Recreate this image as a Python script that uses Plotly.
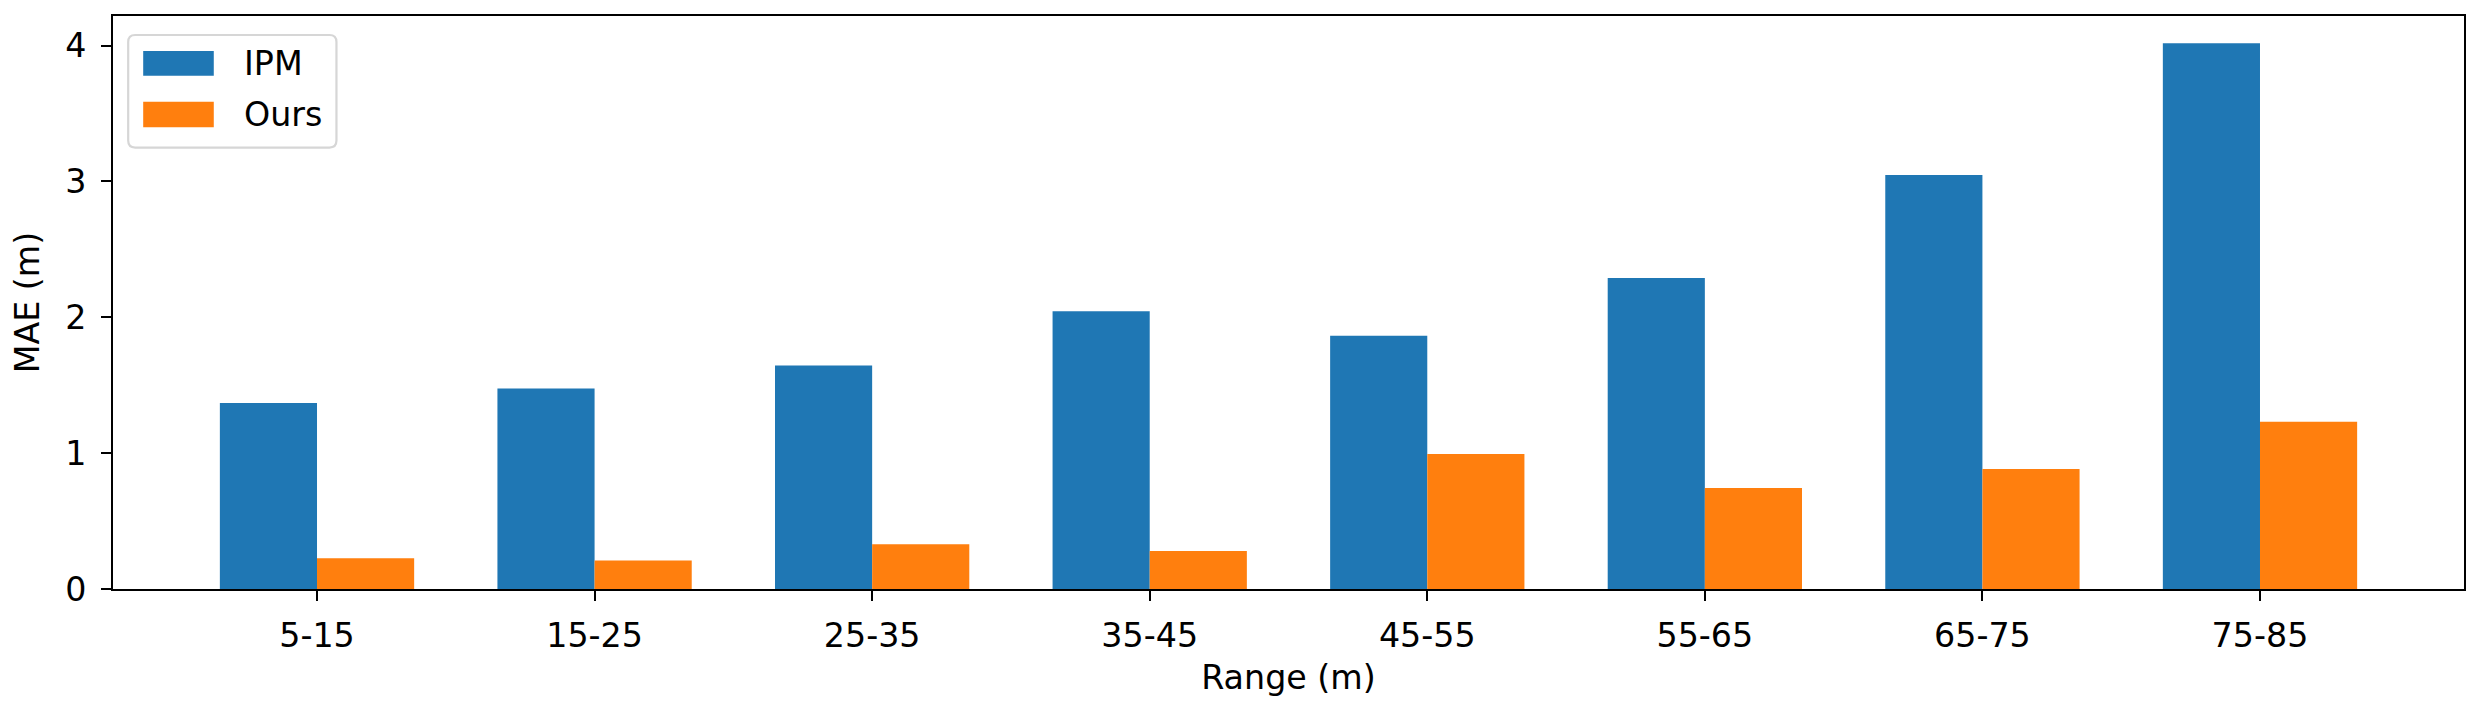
import plotly.graph_objects as go

# ---- data ----
categories = ["5-15", "15-25", "25-35", "35-45", "45-55", "55-65", "65-75", "75-85"]
ipm_mae = [1.37, 1.475, 1.645, 2.045, 1.865, 2.29, 3.047, 4.017]
ours_mae = [0.226, 0.21, 0.33, 0.28, 0.993, 0.743, 0.883, 1.232]
series_names = ["IPM", "Ours"]
y_ticks = [0, 1, 2, 3, 4]

# ---- style ----
# page body has an 8px default margin; figure is sized so it fills the window exactly
OFF = 8
W, H = 2485 - OFF, 708 - OFF
L, R, T, B = 112.5 - OFF, 2464 - OFF, 16 - OFF, 589.5 - OFF
FONT = "DejaVu Sans"
FS = 33.3
BLUE = "#1f77b4"
ORANGE = "#ff7f0e"

fig = go.Figure()
fig.add_trace(go.Bar(x=categories, y=ipm_mae, name=series_names[0],
                     marker=dict(color=BLUE, line=dict(width=0)), showlegend=False))
fig.add_trace(go.Bar(x=categories, y=ours_mae, name=series_names[1],
                     marker=dict(color=ORANGE, line=dict(width=0)), showlegend=False))

ymax = max(ipm_mae) * 1.05

axis_common = dict(
    showline=True, linecolor="black", linewidth=2.2, mirror=True,
    ticks="outside", ticklen=9.7, tickwidth=2.2, tickcolor="black",
    showgrid=False, zeroline=False, automargin=False,
    tickfont=dict(family=FONT, size=FS, color="black"),
)

fig.update_layout(
    width=W, height=H,
    margin=dict(l=L, r=W - R, t=T, b=H - B, pad=0),
    paper_bgcolor="white", plot_bgcolor="white",
    barmode="group", bargap=0.3, bargroupgap=0,
    font=dict(family=FONT, size=FS, color="black"),
    xaxis=dict(**axis_common, type="category", range=[-0.735, len(categories) - 1 + 0.735],
               title=dict(text="Range (m)", font=dict(family=FONT, size=FS), standoff=12),
               ticklabelstandoff=6),
    yaxis=dict(**axis_common, range=[0, ymax], tickvals=y_ticks,
               title=dict(text="MAE (m)", font=dict(family=FONT, size=FS), standoff=16),
               ticklabelstandoff=8),
)

# ---- legend drawn as box + patches + text (matplotlib style) ----
pw, ph = R - L, B - T
def px(x):
    return (x - OFF - L) / pw
def py(y):
    return (B - (y - OFF)) / ph

bx0, by0, bx1, by1 = 127.7, 35, 336, 147.7
r = 7
path = (
    f"M {px(bx0 + r)},{py(by0)} L {px(bx1 - r)},{py(by0)} "
    f"Q {px(bx1)},{py(by0)} {px(bx1)},{py(by0 + r)} "
    f"L {px(bx1)},{py(by1 - r)} Q {px(bx1)},{py(by1)} {px(bx1 - r)},{py(by1)} "
    f"L {px(bx0 + r)},{py(by1)} Q {px(bx0)},{py(by1)} {px(bx0)},{py(by1 - r)} "
    f"L {px(bx0)},{py(by0 + r)} Q {px(bx0)},{py(by0)} {px(bx0 + r)},{py(by0)} Z"
)
fig.add_shape(type="path", path=path, xref="paper", yref="paper",
              fillcolor="rgba(255,255,255,0.8)", line=dict(color="#d6d6d6", width=2.2), layer="above")

patch_rows = [(51, 75.7), (101.7, 127.3)]
for (y0, y1), name, col in zip(patch_rows, series_names, [BLUE, ORANGE]):
    fig.add_shape(type="rect", xref="paper", yref="paper",
                  x0=px(142.7), x1=px(213.3), y0=py(y1), y1=py(y0),
                  fillcolor=col, line=dict(width=0), layer="above")
    fig.add_annotation(x=px(241.7), y=py((y0 + y1) / 2), xref="paper", yref="paper",
                       text=name, showarrow=False, xanchor="left", yanchor="middle",
                       font=dict(family=FONT, size=FS, color="black"))

fig.write_html("out.html")
